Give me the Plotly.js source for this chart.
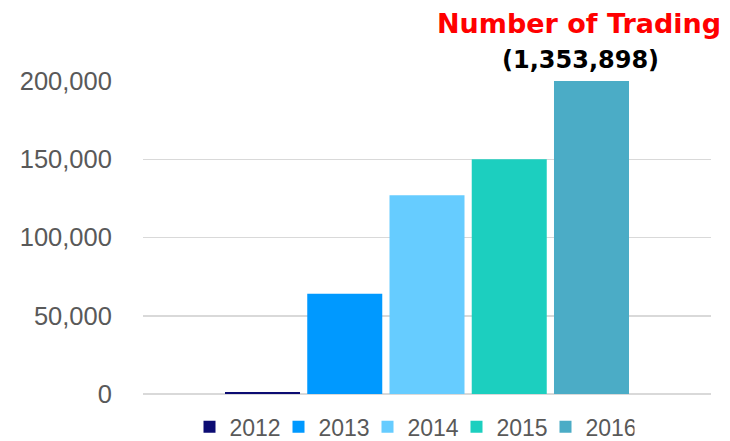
<!DOCTYPE html>
<html>
<head>
<meta charset="utf-8">
<script src="https://cdn.plot.ly/plotly-3.0.1.min.js"></script>
<style>html,body{margin:0;padding:0;background:#fff;}#chart{width:730px;height:441px;}</style>
</head>
<body>
<div id="chart"></div>
<script>
var years = ["2012", "2013", "2014", "2015", "2016"];
var values = [1300, 64000, 127000, 150000, 1353898];
var colors = ["#0c0c73", "#0099ff", "#66ccff", "#1ccfbf", "#4bacc6"];
var yTicks = [0, 50000, 100000, 150000, 200000];
var yTickText = ["0", "50,000", "100,000", "150,000", "200,000"];
var titleLine1 = "Number of Trading";
var titleLine2 = "(1,353,898)";

var traces = years.map(function (yr, i) {
  return {
    type: "bar",
    name: yr,
    x: [""],
    y: [values[i]],
    marker: { color: colors[i] },
    hoverinfo: "none"
  };
});

var layout = {
  width: 730,
  height: 441,
  margin: { l: 143, r: 19, t: 81, b: 47, autoexpand: false },
  paper_bgcolor: "#fff",
  plot_bgcolor: "#fff",
  barmode: "group",
  bargap: 0.276,
  bargroupgap: 0.088,
  font: { family: "Liberation Sans, sans-serif", color: "#595959" },
  xaxis: { showticklabels: false, showgrid: false, zeroline: false, showline: false },
  yaxis: {
    range: [0, 200000],
    tickvals: yTicks,
    ticktext: yTickText,
    tickfont: { size: 25.5, color: "#595959", family: "Liberation Sans, sans-serif" },
    gridcolor: "#d9d9d9",
    gridwidth: 1.5,
    zeroline: true,
    zerolinecolor: "#d9d9d9",
    zerolinewidth: 1.5,
    ticks: "outside",
    ticklen: 25,
    tickcolor: "rgba(0,0,0,0)",
    showline: false
  },
  showlegend: true,
  legend: {
    orientation: "h",
    x: (412 - 143) / 568,
    xanchor: "center",
    y: -0.105,
    yanchor: "middle",
    font: { size: 23, color: "#595959", family: "Liberation Sans, sans-serif" },
    itemwidth: 30,
    entrywidth: 44,
    entrywidthmode: "pixels",
    traceorder: "normal"
  },
  annotations: [
    { xref: "paper", yref: "paper", x: (579 - 143) / 568, y: 1 + (81 - 23) / 313, text: "<b>" + titleLine1 + "</b>", showarrow: false, font: { size: 27, color: "#ff0000", family: "DejaVu Sans, sans-serif" }, xanchor: "center", yanchor: "middle" },
    { xref: "paper", yref: "paper", x: (580 - 143) / 568, y: 1 + (81 - 60) / 313, text: "<b>" + titleLine2 + "</b>", showarrow: false, font: { size: 24, color: "#000000", family: "DejaVu Sans, sans-serif" }, xanchor: "center", yanchor: "middle" }
  ]
};

Plotly.newPlot("chart", traces, layout, { displayModeBar: false, staticPlot: true });
</script>
</body>
</html>
